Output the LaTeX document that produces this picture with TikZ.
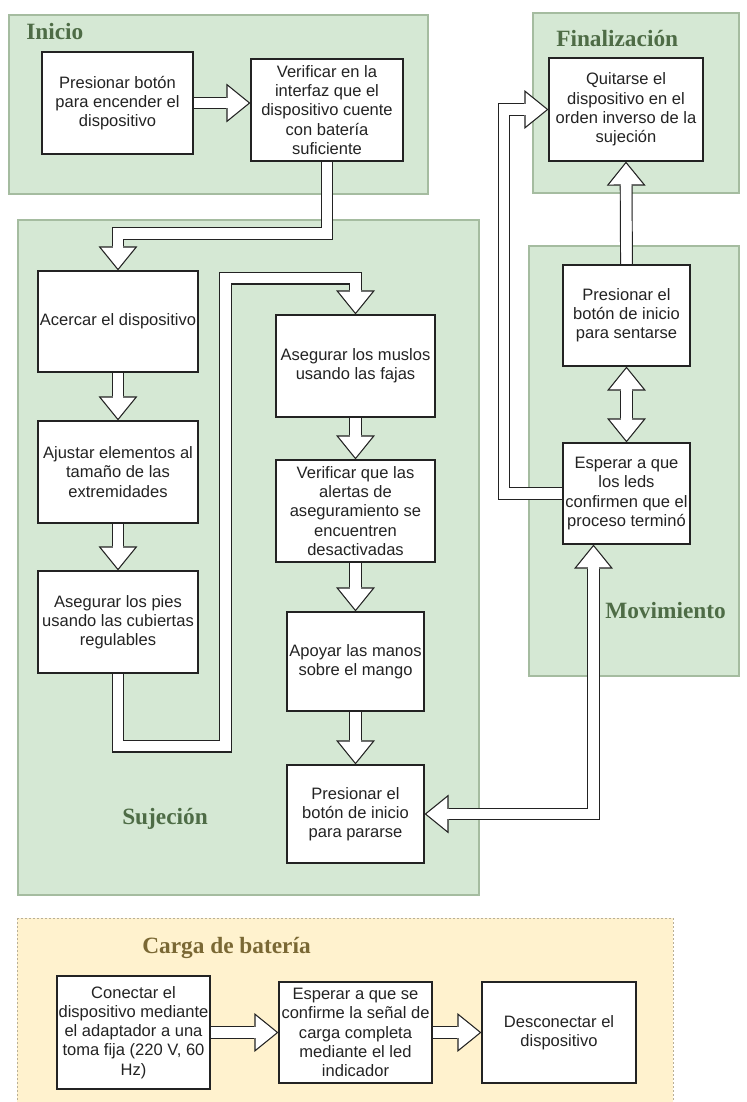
\documentclass[tikz,border=0pt]{standalone}
\usepackage{fontspec}
\setmainfont{Liberation Sans}
\newfontfamily\ttlfont{Liberation Serif}
\usetikzlibrary{arrows.meta,calc}
\pgfdeclarelayer{bg}
\pgfdeclarelayer{arr}
\pgfsetlayers{bg,arr,main}
\definecolor{regfill}{RGB}{213,232,212}
\definecolor{regline}{RGB}{165,188,160}
\definecolor{yelfill}{RGB}{255,242,206}
\definecolor{yelline}{RGB}{185,175,150}
\definecolor{ttlgreen}{RGB}{78,108,70}
\definecolor{ttlbrown}{RGB}{122,104,52}
\definecolor{inkc}{RGB}{35,35,35}
\tikzset{
  flexhead/.tip={Triangle[length=18pt,width=29.2pt,line width=0pt]},
  flexheadin/.tip={Triangle[length=15.7pt,width=25.4pt,line width=0pt]},
  stepbox/.style={draw=inkc, line width=0.9pt, fill=white, inner sep=0pt, align=center,
    text=inkc, font=\fontsize{12.4}{14.4}\selectfont},
  region/.style={fill=regfill, draw=regline, line width=0.8pt},
  cargareg/.style={fill=yelfill, draw=yelline, line width=0.5pt, dash pattern=on 1.5pt off 1.5pt},
  ttl/.style={font=\ttlfont\bfseries\fontsize{17.5}{20}\selectfont, text=ttlgreen, inner sep=0pt, anchor=base west},
  flex/.style={draw=inkc, line width=9.6pt, line join=miter, -{flexhead},
    postaction={draw=white, line width=7.8pt, line join=miter, -{flexheadin}, shorten >=1.43pt},
    postaction={draw=white, line width=7.8pt, line join=miter, -, shorten >=15pt}},
  flexboth/.style={draw=inkc, line width=9.6pt, line join=miter, {flexhead}-{flexhead},
    postaction={draw=white, line width=7.8pt, line join=miter, {flexheadin}-{flexheadin}, shorten >=1.43pt, shorten <=1.43pt},
    postaction={draw=white, line width=7.8pt, line join=miter, -, shorten >=15pt, shorten <=15pt}},
}
\newcommand\mkbox[6]{\node[stepbox, minimum width={(#4-#2)*0.75pt}, minimum height={(#5-#3)*0.75pt}] (#1) at ({(#2+#4)/2},{(#3+#5)/2}) {#6};}
\begin{document}
\begin{tikzpicture}[x=0.75pt,y=-0.75pt]
\useasboundingbox (0,0) rectangle (746,1102);
% regions
\begin{pgfonlayer}{bg}
  \fill[white] (0,0) rectangle (746,1102);
  \draw[region] (9,15) rectangle (428,194);
  \draw[region] (533,13) rectangle (739,193);
  \draw[region] (529,246) rectangle (739,676);
  \draw[region] (18,220) rectangle (479,895);
  \draw[cargareg] (17,918) rectangle (673,1115);
\end{pgfonlayer}
% titles
\node[ttl] (tIni) at (26,40) {Inicio};
\node[ttl] (tFin) at (556,46.5) {Finalización};
\node[ttl] (tMov) at (605,618) {Movimiento};
\node[ttl] (tSuj) at (122,824) {Sujeción};
\node[ttl, text=ttlbrown] (tCar) at (142,953) {Carga de batería};
% boxes
\mkbox{b1}{42}{52}{193}{154}{Presionar botón\\para encender el\\dispositivo}
\mkbox{b2}{251}{59}{403}{161}{Verificar en la\\interfaz que el\\dispositivo cuente\\con batería\\suficiente}
\mkbox{quit}{549}{58}{703}{161}{Quitarse el\\dispositivo en el\\orden inverso de la\\sujeción}
\mkbox{sent}{563}{265}{690}{366}{Presionar el\\botón de inicio\\para sentarse}
\mkbox{leds}{563}{443}{690}{544}{Esperar a que\\los leds\\confirmen que el\\proceso terminó}
\mkbox{acer}{38}{271}{198}{372}{Acercar el dispositivo}
\mkbox{ajus}{38}{421}{198}{523}{Ajustar elementos al\\tamaño de las\\extremidades}
\mkbox{pies}{38}{571}{198}{673}{Asegurar los pies\\usando las cubiertas\\regulables}
\mkbox{musl}{276}{315}{435}{417}{Asegurar los muslos\\usando las fajas}
\mkbox{aler}{276}{460}{435}{562}{Verificar que las\\alertas de\\aseguramiento se\\encuentren\\desactivadas}
\mkbox{apoy}{287}{612}{424}{711}{Apoyar las manos\\sobre el mango}
\mkbox{para}{287}{765}{424}{863}{Presionar el\\botón de inicio\\para pararse}
\mkbox{cone}{57}{976}{210}{1089}{Conectar el\\dispositivo mediante\\el adaptador a una\\toma fija (220 V, 60\\Hz)}
\mkbox{espc}{279}{982}{432}{1083}{Esperar a que se\\confirme la señal de\\carga completa\\mediante el led\\indicador}
\mkbox{desc}{482}{982}{636}{1083}{Desconectar el\\dispositivo}
% connectors
\begin{pgfonlayer}{arr}
  \draw[flex] (b1.east) -- (b1.east -| b2.west);
  \draw[flex] (b2.south) -- ++(0,72) -| (acer.north);
  \draw[flex] (acer.south) -- (ajus.north);
  \draw[flex] (ajus.south) -- (pies.north);
  \draw[flex] (pies.south) -- ++(0,72.5) -| ++(107.5,-468) -| (musl.north);
  \draw[flex] (musl.south) -- (aler.north);
  \draw[flex] (aler.south) -- (apoy.north);
  \draw[flex] (apoy.south) -- (para.north);
  \draw[flexboth] (para.east) -| ($(leds.south)+(-33,0)$);
  \draw[flexboth] (sent.south) -- (leds.north);
  \draw[flex] (sent.north) -- (quit.south);
  \draw[flex] (leds.west) -- ++(-58.5,0) |- (quit.west);
  \draw[flex] (cone.east) -- (cone.east -| espc.west);
  \draw[flex] (espc.east) -- (desc.west);
\end{pgfonlayer}
\end{tikzpicture}
\end{document}
